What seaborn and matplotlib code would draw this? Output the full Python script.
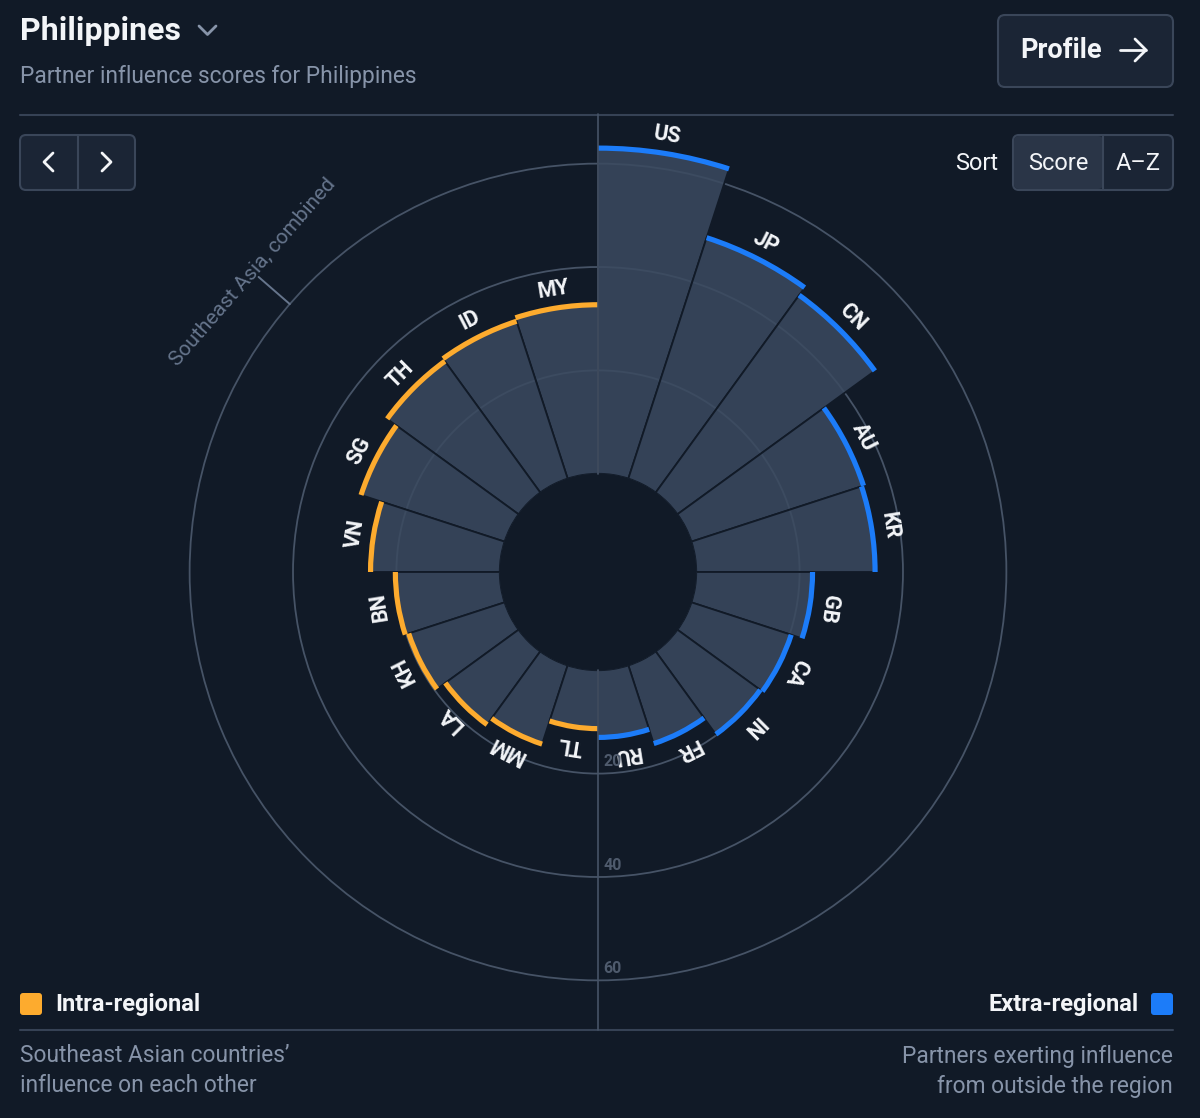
import numpy as np
import matplotlib
matplotlib.use('Agg')
import matplotlib.pyplot as plt
import seaborn as sns
from matplotlib.patches import FancyBboxPatch

# scores
extra_codes = ['US', 'JP', 'CN', 'AU', 'KR', 'GB', 'CA', 'IN', 'FR', 'RU']
extra_scores = [63.0, 49.0, 47.2, 35.0, 34.6, 22.5, 20.3, 19.8, 15.9, 13.0]
intra_codes = ['MY', 'ID', 'TH', 'SG', 'VN', 'BN', 'KH', 'LA', 'MM', 'TL']
intra_scores = [32.7, 32.0, 31.4, 29.2, 25.0, 20.2, 19.5, 17.5, 16.0, 11.3]
ring_ticks = [20, 40, 60]
sea_combined = 60

BG = '#111a27'
BAR = (59 / 255, 74 / 255, 96 / 255, 0.85)
GRID = '#465366'
LINE = '#364255'
ORANGE = '#fdab2e'
BLUE = '#1c7cf9'
WHITE = '#f3f5f8'
MUTED = '#8794a9'
BTN = '#1b2535'
BTN_ON = '#2a3547'
BTN_EDGE = '#3a4659'

sns.set_theme(style='dark', rc={'figure.facecolor': BG, 'axes.facecolor': BG,
                                'savefig.facecolor': BG, 'axes.edgecolor': BG,
                                'axes.linewidth': 0})
plt.rcParams['font.family'] = ['Roboto', 'DejaVu Sans']

fig = plt.figure(figsize=(12, 11.18), dpi=100)

# pixel-space overlay for the page furniture
ui = fig.add_axes([0, 0, 1, 1], zorder=0)
ui.set_xlim(0, 1200)
ui.set_ylim(1118, 0)
ui.axis('off')

# ---- polar chart ----
ax = fig.add_axes([140 / 1200, 88 / 1118, 916 / 1200, 916 / 1118],
                  projection='polar', zorder=1)
ax.set_facecolor('none')
ax.patch.set_edgecolor('none')
ax.set_theta_zero_location('N')
ax.set_theta_direction(-1)
ax.set_rorigin(-19)
ax.set_ylim(0, 69.6)
ax.set_yticks(ring_ticks)
ax.set_yticklabels([])
ax.set_xticks([])
ax.yaxis.grid(True, color=GRID, linewidth=1.3)
ax.xaxis.grid(False)
for sp in ax.spines.values():
    sp.set_visible(False)
ax.set_axisbelow(True)

n = len(extra_codes) + len(intra_codes)
step = 2 * np.pi / n
extra_theta = (np.arange(len(extra_codes)) + 0.5) * step
intra_theta = 2 * np.pi - (np.arange(len(intra_codes)) + 0.5) * step

for codes, scores, thetas, col in [(extra_codes, extra_scores, extra_theta, BLUE),
                                   (intra_codes, intra_scores, intra_theta, ORANGE)]:
    scores = np.array(scores)
    ax.bar(thetas, scores, width=step, bottom=0, color=BAR, edgecolor=BG,
           linewidth=1.3, zorder=2)
    ax.bar(thetas, 1.0, width=step, bottom=scores - 0.5, color=col,
           edgecolor='none', zorder=3)
    for code, s, th in zip(codes, scores, thetas):
        ax.text(th, s + 3.6, code, rotation=-np.degrees(th), rotation_mode='anchor',
                ha='center', va='center', color=WHITE, fontsize=15.5,
                fontweight='bold', zorder=5)

# divider through the chart
for th in (0, np.pi):
    ax.plot([th, th], [0, 69.6], color=GRID, linewidth=1.2, zorder=4, clip_on=False)

for v in ring_ticks:
    ax.annotate(str(v), xy=(np.pi, v), xytext=(4, 3), textcoords='offset points',
                ha='left', va='bottom', color='#4f5b6d', fontsize=11.5,
                fontweight='bold', zorder=5)

# Southeast Asia combined marker
sea_th = np.radians(311)
ax.plot([sea_th, sea_th], [sea_combined, sea_combined + 8], color='#66758c',
        linewidth=1.4, clip_on=False, zorder=4)
ax.text(sea_th, sea_combined + 9.4, 'Southeast Asia, combined',
        rotation=-311, rotation_mode='anchor', ha='center', va='center',
        color='#66758c', fontsize=15)

# ---- header ----
ui.text(20, 31, 'Philippines', color=WHITE, fontsize=23, fontweight='bold',
        ha='left', va='center')
ui.plot([199, 207.5, 216], [26, 34.5, 26], color=MUTED, linewidth=2,
        solid_capstyle='round', solid_joinstyle='round')
ui.text(20, 77, 'Partner influence scores for Philippines', color=MUTED,
        fontsize=16.4, ha='left', va='center')

ui.add_patch(FancyBboxPatch((998, 15), 175, 72, boxstyle='round,pad=0,rounding_size=7',
                            facecolor=BTN, edgecolor=BTN_EDGE, linewidth=1.5))
ui.text(1061, 51, 'Profile', color=WHITE, fontsize=19.5, fontweight='bold',
        ha='center', va='center')
ui.plot([1120, 1146], [50, 50], color=WHITE, linewidth=2, solid_capstyle='round')
ui.plot([1135, 1146, 1135], [39, 50, 61], color=WHITE, linewidth=2,
        solid_capstyle='round', solid_joinstyle='round')

ui.plot([20, 1173], [115, 115], color=LINE, linewidth=1.5)

# nav buttons
ui.add_patch(FancyBboxPatch((20, 135), 115, 55, boxstyle='round,pad=0,rounding_size=6',
                            facecolor=BTN, edgecolor=BTN_EDGE, linewidth=1.5))
ui.plot([78, 78], [135, 190], color=BTN_EDGE, linewidth=1.5)
ui.plot([53, 44, 53], [153, 162, 171], color=WHITE, linewidth=2,
        solid_capstyle='round', solid_joinstyle='round')
ui.plot([102, 111, 102], [153, 162, 171], color=WHITE, linewidth=2,
        solid_capstyle='round', solid_joinstyle='round')

# sort control
ui.text(977, 163, 'Sort', color=WHITE, fontsize=17, ha='center', va='center')
ui.add_patch(FancyBboxPatch((1013, 135), 160, 55, boxstyle='round,pad=0,rounding_size=6',
                            facecolor=BTN, edgecolor=BTN_EDGE, linewidth=1.5))
ui.add_patch(FancyBboxPatch((1014, 136), 89, 53, boxstyle='round,pad=0,rounding_size=5',
                            facecolor=BTN_ON, edgecolor='none'))
ui.plot([1103, 1103], [135, 190], color=BTN_EDGE, linewidth=1.5)
ui.text(1058, 163, 'Score', color=WHITE, fontsize=17, ha='center', va='center')
ui.text(1138, 163, 'A\u2013Z', color=WHITE, fontsize=17, ha='center', va='center')

# ---- legend / footer ----
ui.add_patch(FancyBboxPatch((20, 993), 22, 22, boxstyle='round,pad=0,rounding_size=3',
                            facecolor=ORANGE, edgecolor='none'))
ui.text(55, 1005, 'Intra-regional', color=WHITE, fontsize=17, fontweight='bold',
        ha='left', va='center')
ui.add_patch(FancyBboxPatch((1151, 993), 22, 22, boxstyle='round,pad=0,rounding_size=3',
                            facecolor=BLUE, edgecolor='none'))
ui.text(1139, 1005, 'Extra-regional', color=WHITE, fontsize=17, fontweight='bold',
        ha='right', va='center')

ui.plot([20, 1173], [1030, 1030], color=LINE, linewidth=1.5)

ui.text(20, 1056, 'Southeast Asian countries\u2019', color=MUTED, fontsize=16.4,
        ha='left', va='center')
ui.text(20, 1086, 'influence on each other', color=MUTED, fontsize=16.4,
        ha='left', va='center')
ui.text(1173, 1056, 'Partners exerting influence', color=MUTED, fontsize=16.4,
        ha='right', va='center')
ui.text(1173, 1086, 'from outside the region', color=MUTED, fontsize=16.4,
        ha='right', va='center')

fig.savefig('out.png', dpi=100, facecolor=BG)
